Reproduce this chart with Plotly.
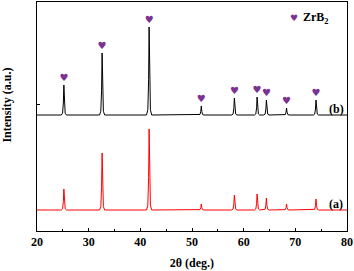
import plotly.graph_objects as go

# Peak data (2theta positions and intensities, arbitrary units)
peak_pos = [25.2, 32.6, 41.7, 51.8, 58.2, 62.6, 64.4, 68.3, 74.0]
height_b = [30, 62, 88, 9, 17, 18, 15, 7, 15]
height_a = [21, 57, 81, 6, 15, 16, 12, 6, 11]
base_b = 116
base_a = 21
heart_gap = 7
xticks = [20, 30, 40, 50, 60, 70, 80]

# peak shape template (offsets in degrees and fraction of height)
shape_dx = [-0.5, -0.25, -0.1, 0.0, 0.1, 0.25, 0.5]
shape_f = [0.0, 0.06, 0.4, 1.0, 0.4, 0.06, 0.0]


def build(base, heights):
    xs, ys = [20.0], [base]
    for p, h in zip(peak_pos, heights):
        for dx, f in zip(shape_dx, shape_f):
            xs.append(p + dx)
            ys.append(base + h * f)
    xs.append(80.0)
    ys.append(base)
    return xs, ys


xb, yb = build(base_b, height_b)
xa, ya = build(base_a, height_a)

purple = "#7B3294"
font = "Liberation Serif"

fig = go.Figure()
fig.add_trace(go.Scatter(x=xb, y=yb, mode="lines", line=dict(color="black", width=1), showlegend=False))
fig.add_trace(go.Scatter(x=xa, y=ya, mode="lines", line=dict(color="#FF0000", width=1), showlegend=False))
fig.add_trace(go.Scatter(
    x=peak_pos, y=[base_b + h + heart_gap for h in height_b], mode="text",
    text=["♥"] * len(peak_pos), textfont=dict(color=purple, size=10, family="DejaVu Sans"),
    showlegend=False))

fig.add_annotation(x=0.83, y=0.93, xref="paper", yref="paper", text="♥", showarrow=False,
                   font=dict(color=purple, size=9, family="DejaVu Sans"), xanchor="center", yanchor="middle")
fig.add_annotation(x=0.852, y=0.93, xref="paper", yref="paper", text="<b>ZrB<sub>2</sub></b>", showarrow=False,
                   font=dict(color="black", size=12, family=font), xanchor="left", yanchor="middle")
fig.add_annotation(x=77.9, y=base_b + 6, text="<b>(b)</b>", showarrow=False,
                   font=dict(color="black", size=12, family=font), xanchor="center", yanchor="middle")
fig.add_annotation(x=77.9, y=base_a + 6, text="<b>(a)</b>", showarrow=False,
                   font=dict(color="black", size=12, family=font), xanchor="center", yanchor="middle")
fig.add_annotation(x=-0.095, y=0.55, xref="paper", yref="paper", text="<b>Intensity (a.u.)</b>", showarrow=False,
                   textangle=-90, font=dict(color="black", size=12, family=font), xanchor="center", yanchor="middle")

fig.update_xaxes(range=[20, 80], tickvals=xticks, ticktext=[str(v) for v in xticks],
                 ticks="inside", ticklen=3, tickwidth=1, tickcolor="black",
                 minor=dict(dtick=5, tick0=20, ticks="inside", ticklen=2, tickcolor="black"),
                 showline=True, linecolor="black", linewidth=1, mirror=True, showgrid=False, zeroline=False,
                 automargin=False,
                 tickfont=dict(family=font, size=12, color="black", weight="bold"),
                 title=dict(text="<b>2θ (deg.)</b>", font=dict(family=font, size=12, color="black"), standoff=10))
fig.update_yaxes(range=[0, 229], tickvals=[127], showticklabels=False, ticks="inside", ticklen=3, tickcolor="black",
                 showline=True, linecolor="black", linewidth=1, mirror=True, showgrid=False, zeroline=False,
                 automargin=False)

fig.update_layout(width=354, height=271, margin=dict(l=37, r=7, t=2, b=40, autoexpand=False),
                  plot_bgcolor="white", paper_bgcolor="white")
fig.write_html("out.html", config={"displayModeBar": False},
               post_script="document.body.style.margin='0';")
